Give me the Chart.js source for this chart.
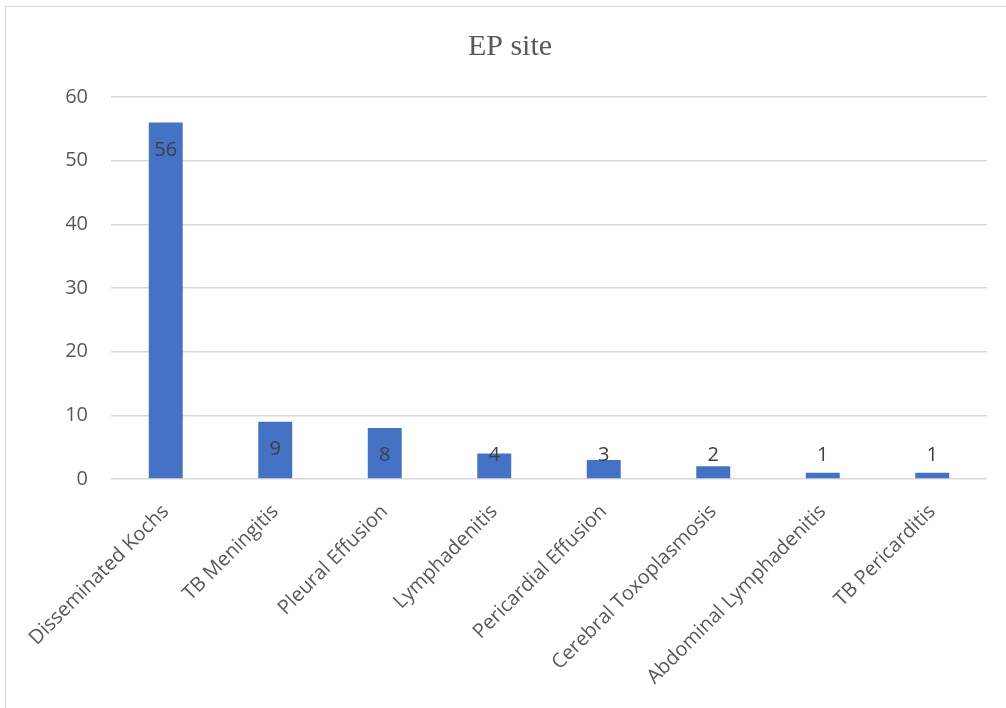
<!DOCTYPE html>
<html lang="en">
<head>
    <meta charset="UTF-8">
    <title>EP site</title>
    <script src="https://cdn.jsdelivr.net/npm/chart.js"></script>
    <style>
        html, body { margin: 0; padding: 0; background: #fff; overflow: hidden; }
        #frame { position: absolute; left: 5px; top: 6px; width: 1020px; height: 720px; border: 1px solid #d9d9d9; }
        #wrap { position: absolute; left: 0; top: 0; width: 1006px; height: 708px; }
    </style>
</head>
<body>
    <div id="frame"></div>
    <div id="wrap"><canvas id="epChart"></canvas></div>

    <script>
        const sites = ['Disseminated Kochs', 'TB Meningitis', 'Pleural Effusion', 'Lymphadenitis',
            'Pericardial Effusion', 'Cerebral Toxoplasmosis', 'Abdominal Lymphadenitis', 'TB Pericarditis'];
        const counts = [56, 9, 8, 4, 3, 2, 1, 1];
        const yTicks = [0, 10, 20, 30, 40, 50, 60];

        const labelFont = '"Open Sans", "Noto Sans", sans-serif';

        // value labels: inside the top of the bar, pushed up when the bar is too short
        const valueLabels = {
            id: 'valueLabels',
            afterDatasetsDraw(chart) {
                const { ctx } = chart;
                const meta = chart.getDatasetMeta(0);
                const yScale = chart.scales.y;
                const floorY = yScale.getPixelForValue(0) - 24;
                ctx.save();
                ctx.font = '20px ' + labelFont;
                ctx.fillStyle = '#404040';
                ctx.textAlign = 'center';
                ctx.textBaseline = 'middle';
                meta.data.forEach((bar, i) => {
                    const y = Math.min(bar.y + 28, floorY);
                    ctx.fillText(String(counts[i]), bar.x, y);
                });
                ctx.restore();
            }
        };

        new Chart(document.getElementById('epChart'), {
            type: 'bar',
            data: {
                labels: sites,
                datasets: [{
                    label: 'EP site',
                    data: counts,
                    backgroundColor: '#4472C4',
                    barPercentage: 0.31,
                    categoryPercentage: 1
                }]
            },
            options: {
                responsive: true,
                maintainAspectRatio: false,
                animation: false,
                layout: { padding: { left: 33, right: 19, top: 0, bottom: 0 } },
                plugins: {
                    legend: { display: false },
                    tooltip: { enabled: false },
                    title: {
                        display: true,
                        text: 'EP site',
                        color: '#595959',
                        font: { family: '"Liberation Serif", "Times New Roman", serif', size: 30, weight: 'normal' },
                        padding: { top: 29, bottom: 32 }
                    }
                },
                scales: {
                    x: {
                        grid: { display: false },
                        border: { display: false },
                        ticks: {
                            color: '#595959',
                            font: { family: labelFont, size: 20 },
                            minRotation: 45,
                            maxRotation: 45,
                            autoSkip: false,
                            padding: 13
                        },
                        afterFit(scale) { scale.height = 229; }
                    },
                    y: {
                        min: 0,
                        max: 60,
                        afterBuildTicks(scale) { scale.ticks = yTicks.map(v => ({ value: v })); },
                        grid: { color: '#d9d9d9', lineWidth: 1.5, drawTicks: false },
                        border: { display: false },
                        ticks: {
                            color: '#595959',
                            font: { family: labelFont, size: 20 },
                            padding: 23
                        },
                        afterFit(scale) { scale.width = 78; }
                    }
                }
            },
            plugins: [valueLabels]
        });
    </script>
</body>
</html>
